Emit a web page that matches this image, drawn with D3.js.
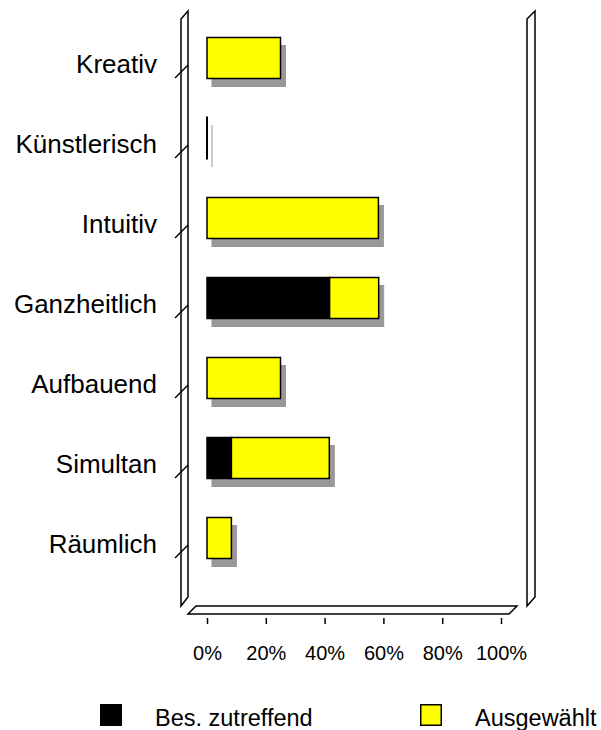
<!DOCTYPE html>
<html>
<head>
<meta charset="utf-8">
<script src="https://cdn.jsdelivr.net/npm/d3@7"></script>
<style>
  html, body { margin: 0; padding: 0; background: #fff; }
  svg { display: block; font-family: "Liberation Sans", Arial, sans-serif; }
</style>
</head>
<body>
<svg id="chart" width="601" height="730"></svg>
<script>
// Categories top to bottom
const categories = ["Kreativ", "Künstlerisch", "Intuitiv", "Ganzheitlich", "Aufbauend", "Simultan", "Räumlich"];
// Share of answers in percent (12 respondents)
const besZutreffend = [0, 0, 0, 41.7, 0, 8.3, 0];
const ausgewaehlt   = [25, 0, 58.3, 16.7, 25, 33.3, 8.3];
const seriesNames   = ["Bes. zutreffend", "Ausgewählt"];
const seriesColors  = ["#000000", "#ffff00"];
const tickValues    = [0, 20, 40, 60, 80, 100];

const svg = d3.select("#chart");

const x = d3.scaleLinear().domain([0, 100]).range([207, 501]);
const y = d3.scalePoint().domain(categories).range([58, 538]);
const barH = 41;
const shadowDx = 5, shadowDy = 8;

const rows = categories.map((c, i) => ({
  cat: c,
  [seriesNames[0]]: besZutreffend[i],
  [seriesNames[1]]: ausgewaehlt[i]
}));
const stacked = d3.stack().keys(seriesNames)(rows);

// Side walls (thin slabs in perspective)
function wall(xf, xb) {
  return [[xf, 19], [xb, 11], [xb, 597], [xf, 606]];
}
const line = d3.line();
[wall(181, 188), wall(527, 535)].forEach(pts => {
  svg.append("path")
    .attr("d", line(pts) + "Z")
    .attr("fill", "#fff")
    .attr("stroke", "#000")
    .attr("stroke-width", 1.5);
});

// Floor
svg.append("path")
  .attr("d", line([[188, 614], [509, 614], [517, 606], [196, 606]]) + "Z")
  .attr("fill", "#fff")
  .attr("stroke", "#000")
  .attr("stroke-width", 1.5);

// Category tick marks across the left wall
svg.append("g").selectAll("line")
  .data(categories)
  .join("line")
  .attr("x1", 175).attr("y1", d => y(d) + 20)
  .attr("x2", 188).attr("y2", d => y(d) + 7)
  .attr("stroke", "#000")
  .attr("stroke-width", 1.5);

// Category labels
svg.append("g").selectAll("text")
  .data(categories)
  .join("text")
  .attr("x", 157)
  .attr("y", d => y(d) + 15)
  .attr("text-anchor", "end")
  .attr("font-size", 26)
  .attr("fill", "#000")
  .text(d => d);

// Drop shadows of the full bars
const totals = rows.map((r, i) => ({ cat: r.cat, total: besZutreffend[i] + ausgewaehlt[i] }));
svg.append("g").selectAll("rect")
  .data(totals)
  .join("rect")
  .attr("x", d => x(0) + shadowDx)
  .attr("y", d => y(d.cat) - barH / 2 + shadowDy)
  .attr("width", d => Math.max(x(d.total) - x(0), 0.01))
  .attr("height", barH)
  .attr("fill", "#999999")
  .attr("stroke", "#999999")
  .attr("stroke-width", 1);

// Stacked bars
const barG = svg.append("g");
stacked.forEach((s, si) => {
  barG.append("g").selectAll("rect")
    .data(s.filter(d => d[1] - d[0] > 0))
    .join("rect")
    .attr("x", d => x(d[0]))
    .attr("y", d => y(d.data.cat) - barH / 2)
    .attr("width", d => x(d[1]) - x(d[0]))
    .attr("height", barH)
    .attr("fill", seriesColors[si])
    .attr("stroke", "#000")
    .attr("stroke-width", 1.5);
});
// Empty categories still show a hairline bar at 0 %
barG.append("g").selectAll("rect")
  .data(totals.filter(d => d.total === 0))
  .join("rect")
  .attr("x", x(0))
  .attr("y", d => y(d.cat) - barH / 2)
  .attr("width", 0.01)
  .attr("height", barH)
  .attr("fill", "#000")
  .attr("stroke", "#000")
  .attr("stroke-width", 2);

// Percent axis below the floor
const axis = d3.axisBottom(x)
  .tickValues(tickValues)
  .tickFormat(d => d + "%")
  .tickSize(6)
  .tickPadding(22);
const ax = svg.append("g")
  .attr("transform", "translate(0,618)")
  .call(axis);
ax.select(".domain").remove();
ax.selectAll(".tick line").attr("stroke", "#000").attr("stroke-width", 1.5);
ax.selectAll(".tick text")
  .attr("font-size", 20)
  .attr("font-family", "Liberation Sans, Arial, sans-serif")
  .attr("fill", "#000");

// Legend
const legendX = [100, 420];
const lg = svg.append("g").selectAll("g")
  .data(seriesNames)
  .join("g")
  .attr("transform", (d, i) => `translate(${legendX[i]},704)`);
lg.append("rect")
  .attr("x", 0.75).attr("y", 0.75)
  .attr("width", 20.5).attr("height", 20.5)
  .attr("fill", (d, i) => seriesColors[i])
  .attr("stroke", "#000")
  .attr("stroke-width", 1.5);
lg.append("text")
  .attr("x", 55)
  .attr("y", 22)
  .attr("font-size", 23.5)
  .attr("fill", "#000")
  .text(d => d);
</script>
</body>
</html>
